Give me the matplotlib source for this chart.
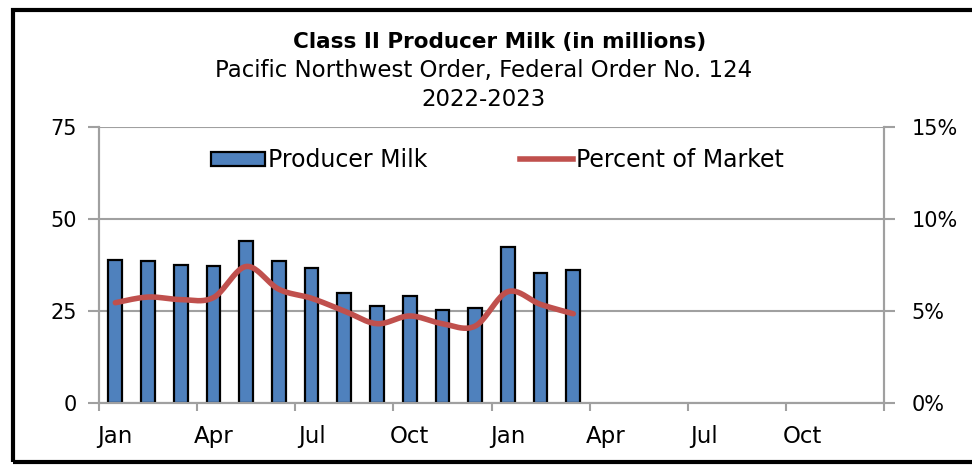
import numpy as np
import matplotlib.pyplot as plt
from matplotlib.patches import Rectangle, Patch
from matplotlib.lines import Line2D

# Monthly data, Jan 2022 - Mar 2023 (chart axis runs through Dec 2023)
months = ['Jan', 'Feb', 'Mar', 'Apr', 'May', 'Jun', 'Jul', 'Aug', 'Sep', 'Oct', 'Nov', 'Dec',
          'Jan', 'Feb', 'Mar']
producer_milk = [38.9, 38.6, 37.4, 37.1, 44.1, 38.7, 36.6, 30.0, 26.3, 29.2, 25.2, 25.9,
                 42.5, 35.3, 36.2]
pct_market = [5.45, 5.76, 5.62, 5.73, 7.42, 6.18, 5.69, 5.00, 4.31, 4.73, 4.31, 4.18,
              6.05, 5.36, 4.85]
tick_labels = ['Jan', 'Apr', 'Jul', 'Oct', 'Jan', 'Apr', 'Jul', 'Oct']
n_months = 24

bar_color = '#4F81BD'
line_color = '#C0504D'
grid_color = '#A0A0A0'


def smooth_line(x, y, n=24):
    # Excel-style smoothed line (Catmull-Rom through the points)
    pts = np.column_stack([x, y]).astype(float)
    out = []
    for i in range(len(pts) - 1):
        p0 = pts[i - 1] if i > 0 else pts[i]
        p1 = pts[i]
        p2 = pts[i + 1]
        p3 = pts[i + 2] if i + 2 < len(pts) else pts[i + 1]
        c1 = p1 + (p2 - p0) / 6
        c2 = p2 - (p3 - p1) / 6
        t = np.linspace(0, 1, n)[:, None]
        seg = ((1 - t) ** 3) * p1 + 3 * ((1 - t) ** 2) * t * c1 + 3 * (1 - t) * t ** 2 * c2 + t ** 3 * p2
        out.append(seg if i == 0 else seg[1:])
    out = np.vstack(out)
    return out[:, 0], out[:, 1]


plt.rcParams['font.family'] = ['DejaVu Sans']

fig = plt.figure(figsize=(9.72, 4.65), dpi=100)
ax = fig.add_axes([99 / 972, 1 - 403 / 465, (884 - 99) / 972, (403 - 127) / 465])
ax2 = ax.twinx()

x = np.arange(len(producer_milk))
ax.bar(x, producer_milk, width=0.42, color=bar_color, edgecolor='black', linewidth=1.6, zorder=3)

xs, ys = smooth_line(x, pct_market)
ax2.plot(xs, ys, color=line_color, linewidth=4, solid_capstyle='round', zorder=4)

ax.set_xlim(-0.5, n_months - 0.5)
ax.set_ylim(0, 75)
ax2.set_ylim(0, 15)
ax.set_yticks([0, 25, 50, 75])
ax2.set_yticks([0, 5, 10, 15])
ax2.set_yticklabels(['0%', '5%', '10%', '15%'])

ax.set_xticks(np.arange(-0.5, n_months, 3))
ax.set_xticklabels([])
ax.set_xticks(np.arange(0, n_months, 3), minor=True)
ax.set_xticklabels(tick_labels, minor=True)
ax.tick_params(axis='x', which='major', length=6, color=grid_color, width=1.5)
ax.tick_params(axis='x', which='minor', length=0, pad=16, labelsize=16.5)
ax.tick_params(axis='y', length=8, color=grid_color, width=1.5, labelsize=15, pad=8)
ax2.tick_params(axis='y', length=8, color=grid_color, width=1.5, labelsize=15, pad=12)

ax.grid(axis='y', color=grid_color, linewidth=1.5, zorder=0)
ax.set_axisbelow(True)
for a in (ax, ax2):
    a.spines['top'].set_visible(False)
    for s in ('left', 'right', 'bottom'):
        a.spines[s].set_color(grid_color)
        a.spines[s].set_linewidth(1.5)

handles = [Patch(facecolor=bar_color, edgecolor='black', linewidth=1.6),
           Line2D([0], [0], color=line_color, linewidth=4)]
ax2.legend(handles, ['Producer Milk', 'Percent of Market'], ncol=2, frameon=False,
           loc='center', bbox_to_anchor=(0.508, 0.88), fontsize=17,
           handlelength=2.25, handleheight=0.55, handletextpad=0.15, columnspacing=3.9)

fig.text(0.514, 1 - 42 / 465, 'Class II Producer Milk (in millions)', ha='center', va='center',
         fontsize=15.5, fontweight='bold')
fig.text(0.497, 1 - 71 / 465, 'Pacific Northwest Order, Federal Order No. 124', ha='center',
         va='center', fontsize=16.5)
fig.text(0.497, 1 - 100 / 465, '2022-2023', ha='center', va='center', fontsize=16.5)

fig.add_artist(Rectangle((13 / 972, 3 / 465), 1.0, 1 - 13 / 465, transform=fig.transFigure,
                         fill=False, edgecolor='black', linewidth=3, clip_on=False))

fig.savefig('out.png', dpi=100)
